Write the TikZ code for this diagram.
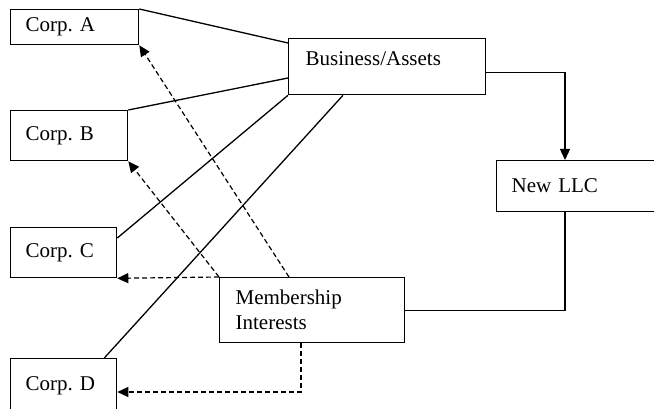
\documentclass[tikz,border=0pt]{standalone}
\usepackage{fontspec}
\setmainfont{Liberation Serif}
\usetikzlibrary{arrows.meta, calc, positioning}
\frenchspacing

\begin{document}
\begin{tikzpicture}[
    x=1pt, y=-1pt,
    every node/.style={font=\fontsize{21}{25}\selectfont},
    entity/.style={
        draw, line width=1.3pt, anchor=north west, align=left,
        inner xsep=15pt, inner ysep=0pt
    },
    link/.style={line width=1.3pt},
    flow/.style={line width=1.3pt, -{Triangle[length=11pt, width=10pt]}},
    interest/.style={line width=1.2pt, dash pattern=on 5pt off 3pt,
        -{Triangle[length=11pt, width=10pt]}}
]
    \useasboundingbox (0,0) rectangle (654,409);

    % Corporations on the left
    \node[entity, text width=98pt, minimum height=35pt] (corpA) at (10,9) {Corp. A};
    \node[entity, text width=87pt, minimum height=50pt] (corpB) at (10,110) {Corp. B};
    \node[entity, text width=76pt, minimum height=50pt] (corpC) at (10,227) {Corp. C};
    \node[entity, text width=76pt, minimum height=54pt] (corpD) at (10,358) {Corp. D};

    % Business, new LLC and interests
    \node[entity, text width=163pt, minimum height=56pt, inner xsep=17pt, text depth=16pt] (business) at (288,38) {Business/Assets};
    \node[entity, text width=130pt, minimum height=51pt] (newllc) at (496,160) {New LLC};
    \node[entity, text width=153pt, minimum height=65pt, inner xsep=16pt] (member) at (219,277) {Membership\\Interests};

    % Contribution of the business
    \draw[link] (corpA.north east) -- ($(business.north west)+(0,5)$);
    \draw[link] (corpB.north east) -- ($(business.north west)+(0,40)$);
    \draw[link] ($(corpC.north east)+(0,11)$) -- (business.south west);
    \draw[link] ($(corpD.north east)+(-13,0)$) -- ($(business.south west)+(55,0)$);
    \draw[flow] ($(business.east)+(0,6)$) -| ($(newllc.north west)+(69,0)$);
    \draw[link] ($(newllc.south west)+(69,0)$) |- (member.east);

    % Interests back to the corporations
    \draw[interest] ($(member.north west)+(70,0)$) -- (corpA.south east);
    \draw[interest] (member.north west) -- (corpB.south east);
    \draw[interest] (member.north west) -- (corpC.south east);
    \draw[interest] ($(member.south west)+(82,0)$) |- ($(corpD.north east)+(0,34)$);
\end{tikzpicture}
\end{document}
